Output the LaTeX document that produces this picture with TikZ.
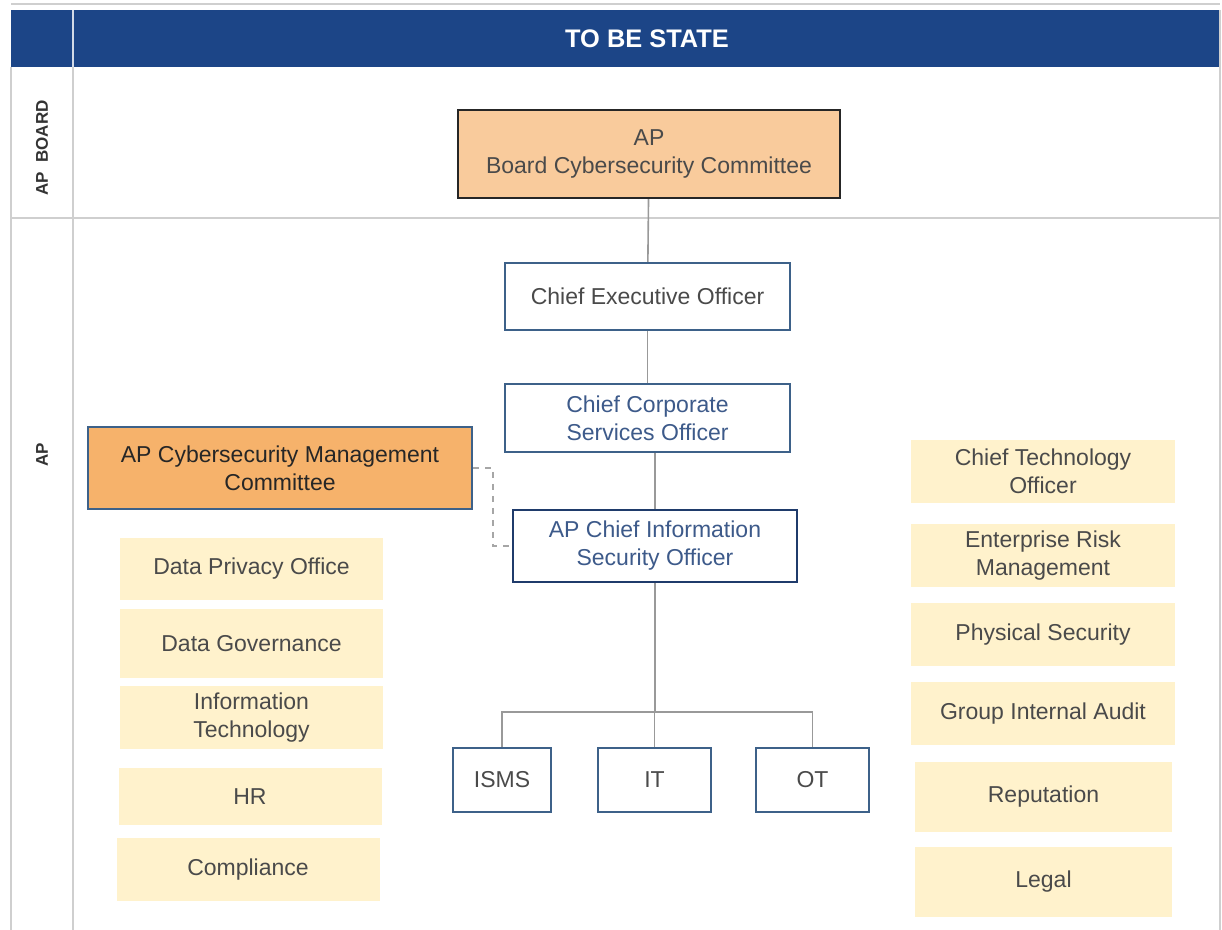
\documentclass[tikz,border=0pt]{standalone}
\usepackage{fontspec}
\setmainfont{Liberation Sans}
\usetikzlibrary{positioning}

\definecolor{hdrblue}{HTML}{1C4587}
\definecolor{boardfill}{HTML}{F9CB9C}
\definecolor{mgmtfill}{HTML}{F6B26B}
\definecolor{tanfill}{HTML}{FFF2CC}
\definecolor{boxline}{HTML}{3D6189}
\definecolor{navyline}{HTML}{1F3B6B}
\definecolor{bluetext}{HTML}{3D5A8A}
\definecolor{greytext}{HTML}{4A4A4A}
\definecolor{gridgrey}{HTML}{CFCFCF}

\begin{document}
\begin{tikzpicture}[x=0.5pt,y=-0.5pt,font=\fontsize{11.5}{14}\selectfont]

\tikzset{office/.style = {shape=rectangle,draw=boxline,line width=1.1pt,fill=white,align=center,text=greytext,inner sep=2pt}}
\tikzset{unit/.style = {shape=rectangle,fill=tanfill,align=center,text=greytext,minimum width=131.5pt,minimum height=32pt,inner sep=2pt}}
\tikzset{link/.style = {draw=gray!80,line width=0.8pt}}
\tikzset{lane/.style = {rotate=90,font=\fontsize{8.5}{10}\selectfont\bfseries,text=black!80}}

\useasboundingbox (0,0) rectangle (1222,930);

%grid
\fill[hdrblue] (11,10) rectangle (1220,67);
\draw[gridgrey,line width=1pt] (11,67) -- (11,930);
\draw[gridgrey,line width=1pt] (73,67) -- (73,930);
\draw[gridgrey,line width=1pt] (1220,10) -- (1220,930);
\draw[gridgrey,line width=1pt] (11,218) -- (1220,218);
\draw[gridgrey,line width=1pt] (11,4) -- (1220,4);
\draw[white!80!hdrblue,line width=0.8pt] (73,10) -- (73,67);
\node[text=white,font=\fontsize{12.7}{15}\selectfont\bfseries] (title) at (647,39) {TO BE STATE};
\node[lane] (laneboard) at (42,148) {AP\ \ BOARD};
\node[lane] (laneap) at (42,455) {AP};

%officers
\node[office, fill=boardfill, draw=black!85, minimum width=191pt, minimum height=44pt] (board) at (649,154) {AP\\Board Cybersecurity Committee};
\node[office, minimum width=142.5pt, minimum height=33.5pt] (ceo) at (647.5,296.5) {Chief Executive Officer};
\node[office, text=bluetext, minimum width=142.5pt, minimum height=34pt] (ccso) at (647.5,418) {Chief Corporate\\Services Officer};
\node[office, draw=navyline, text=bluetext, minimum width=142pt, minimum height=36pt] (ciso) at (655,546) {AP Chief Information\\Security Officer};
\node[office, fill=mgmtfill, text=black!85, minimum width=192pt, minimum height=41pt] (mgmt) at (280,468) {AP Cybersecurity Management\\Committee};
\node[office, minimum width=49pt, minimum height=32pt] (isms) at (502,780) {ISMS};
\node[office, minimum width=56.5pt, minimum height=32pt] (it) at (654.5,780) {IT};
\node[office, minimum width=56.5pt, minimum height=32pt] (ot) at (812.5,780) {OT};

%left units
\node[unit, minimum height=31pt] (dpo) at (251.5,569) {Data Privacy Office};
\node[unit, minimum height=34.5pt] (dgov) at (251.5,643.5) {Data Governance};
\node[unit, minimum height=31.5pt] (infotech) at (251.5,717.5) {Information\\Technology};
\node[unit, minimum height=28.5pt] (hr) at (250,796.5) {HR};
\node[unit, minimum height=31.5pt] (compliance) at (248,869.5) {Compliance};

%right units
\node[unit, minimum width=132pt, minimum height=31.5pt] (cto) at (1043,471.5) {Chief Technology\\Officer};
\node[unit, minimum width=132pt, minimum height=31.5pt] (erm) at (1043,555.5) {Enterprise Risk\\Management};
\node[unit, minimum width=132pt, minimum height=31.5pt] (physec) at (1043,634.5) {Physical Security};
\node[unit, minimum width=132pt, minimum height=31.5pt] (audit) at (1043,713.5) {Group Internal Audit};
\node[unit, minimum width=128.5pt, minimum height=35pt] (reputation) at (1043.5,797) {Reputation};
\node[unit, minimum width=128.5pt, minimum height=35pt] (legal) at (1043.5,882) {Legal};

%edges
\coordinate (bus) at (655,712);
\draw[link] (board) -- (ceo);
\draw[link] (ceo) -- (ccso);
\draw[link] (ciso.north) -- (ciso.north |- ccso.south);
\draw[link] (ciso.south) -- (bus);
\draw[link] (isms.north) |- (bus) -| (ot.north);
\draw[link] (it.north) -- (it.north |- bus);
\draw[link, dashed, draw=gray!70] (mgmt.east) -- ++(20,0) |- (ciso.west);

\end{tikzpicture}
\end{document}
